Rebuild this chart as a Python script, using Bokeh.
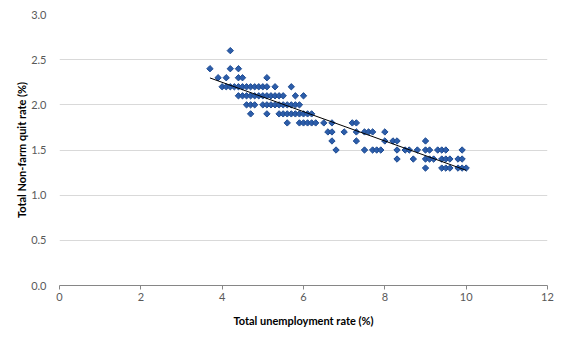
import numpy as np
from bokeh.plotting import figure
from bokeh.models import Range1d, FixedTicker, PrintfTickFormatter
from bokeh.embed import file_html
from bokeh.resources import INLINE

# Total unemployment rate (%) and Total Non-farm quit rate (%)
unemployment_rate = (
    [4.2]
    + [3.7, 4.2, 4.4]
    + [3.9, 4.1, 4.4, 4.5, 5.1]
    + [4.0, 4.1, 4.2, 4.3, 4.4, 4.5, 4.6, 4.7, 4.8, 4.9, 5.0, 5.1, 5.3, 5.7]
    + [4.4, 4.5, 4.6, 4.7, 4.8, 4.9, 5.0, 5.1, 5.2, 5.3, 5.4, 5.5, 5.8, 6.0]
    + [4.6, 4.7, 4.8, 5.0, 5.1, 5.2, 5.3, 5.4, 5.5, 5.6, 5.7, 5.8, 5.9]
    + [4.7, 5.1, 5.4, 5.5, 5.6, 5.7, 5.8, 5.9, 6.0, 6.1, 6.2]
    + [5.6, 5.9, 6.0, 6.1, 6.2, 6.3, 6.5, 6.7, 7.2, 7.3]
    + [6.6, 6.7, 7.0, 7.3, 7.5, 7.6, 7.7, 8.0]
    + [6.7, 7.3, 8.0, 8.2, 8.3, 9.0]
    + [6.8, 7.5, 7.7, 7.8, 7.9, 8.3, 8.5, 8.6, 8.8, 9.0, 9.1, 9.3, 9.4, 9.5, 9.9]
    + [8.3, 8.7, 9.0, 9.1, 9.2, 9.4, 9.5, 9.6, 9.8, 9.9]
    + [9.0, 9.4, 9.5, 9.6, 9.8, 9.9, 10.0]
)
quit_rate = (
    [2.6] * 1
    + [2.4] * 3
    + [2.3] * 5
    + [2.2] * 14
    + [2.1] * 14
    + [2.0] * 13
    + [1.9] * 11
    + [1.8] * 10
    + [1.7] * 8
    + [1.6] * 6
    + [1.5] * 15
    + [1.4] * 10
    + [1.3] * 7
)
x_ticks = [0, 2, 4, 6, 8, 10, 12]
y_ticks = [0.0, 0.5, 1.0, 1.5, 2.0, 2.5, 3.0]

x = np.array(unemployment_rate)
y = np.array(quit_rate)
slope, intercept = np.polyfit(x, y, 1)
trend_x = np.array([x.min(), x.max()])
trend_y = slope * trend_x + intercept

FONT = "Lato"

p = figure(width=567, height=340, output_backend="svg", toolbar_location=None,
           x_range=Range1d(0, 12), y_range=Range1d(0, 3),
           min_border_left=59, min_border_right=20, min_border_top=14,
           min_border_bottom=55)
p.outline_line_color = None
p.background_fill_color = "white"
p.border_fill_color = "white"

p.xgrid.grid_line_color = None
p.ygrid.grid_line_color = "#d9d9d9"
p.ygrid.grid_line_width = 1

p.xaxis.ticker = FixedTicker(ticks=x_ticks)
p.yaxis.ticker = FixedTicker(ticks=y_ticks)
p.yaxis.formatter = PrintfTickFormatter(format="%.1f")

p.xaxis.axis_label = "Total unemployment rate (%)"
p.yaxis.axis_label = "Total Non-farm quit rate (%)"

for ax in (p.xaxis, p.yaxis):
    ax.major_label_text_font = FONT
    ax.major_label_text_font_size = "11px"
    ax.major_label_text_color = "#595959"
    ax.axis_label_text_font = FONT
    ax.axis_label_text_font_size = "11px"
    ax.axis_label_text_font_style = "bold"
    ax.axis_label_text_color = "#000000"
    ax.minor_tick_line_color = None

p.xaxis.axis_line_color = "#868686"
p.xaxis.major_tick_line_color = "#868686"
p.xaxis.major_tick_in = 0
p.xaxis.major_tick_out = 4
p.xaxis.major_label_standoff = 3
p.xaxis.axis_label_standoff = 10

p.yaxis.axis_line_color = None
p.yaxis.major_tick_line_color = None
p.yaxis.major_tick_in = 0
p.yaxis.major_tick_out = 0
p.yaxis.major_label_standoff = 13
p.yaxis.axis_label_standoff = 0

p.scatter(x, y, marker="square", size=4.5, angle=np.pi / 4,
          fill_color="#2C5DAA", line_color="#1F4C92", line_width=1)
p.line(trend_x, trend_y, line_color="black", line_width=1)

open("out.html", "w").write(file_html(p, INLINE))
